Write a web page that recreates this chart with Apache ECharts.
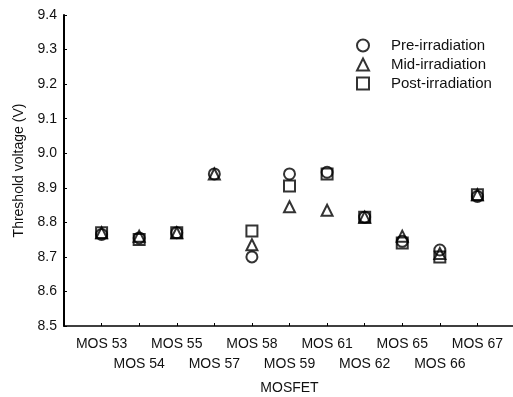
<!DOCTYPE html>
<html>
<head>
<meta charset="utf-8">
<script src="https://cdn.jsdelivr.net/npm/echarts@6/dist/echarts.min.js"></script>
<style>
html,body{margin:0;padding:0;background:#fff;}
#chart{width:513px;height:397px;}
</style>
</head>
<body>
<div id="chart"></div>
<script>
const categories = ['MOS 53','MOS 54','MOS 55','MOS 57','MOS 58','MOS 59','MOS 61','MOS 62','MOS 65','MOS 66','MOS 67'];
const preIrradiation  = [8.765, 8.755, 8.770, 8.940, 8.700, 8.940, 8.945, 8.815, 8.745, 8.720, 8.875];
const midIrradiation  = [8.770, 8.760, 8.770, 8.940, 8.735, 8.845, 8.835, 8.815, 8.760, 8.710, 8.880];
const postIrradiation = [8.770, 8.750, 8.770, null,  8.775, 8.905, 8.940, 8.815, 8.740, 8.700, 8.880];
const yTicks = [8.5, 8.6, 8.7, 8.8, 8.9, 9.0, 9.1, 9.2, 9.3, 9.4];

const axisCats = [''].concat(categories, ['']);
const pad = arr => [null].concat(arr, [null]);
const FONT = 'Liberation Sans, Arial, sans-serif';

const markerStyle = {color: 'rgba(255,255,255,0)', borderColor: '#000', borderWidth: 2};

const chart = echarts.init(document.getElementById('chart'), null, {renderer: 'canvas'});
chart.setOption({
  animation: false,
  backgroundColor: '#fff',
  textStyle: {fontFamily: FONT},
  grid: {left: 64, top: 15, width: 451, height: 311, containLabel: false, outerBoundsMode: 'none'},
  legend: {
    orient: 'vertical',
    left: 351,
    top: 33,
    itemWidth: 12,
    itemHeight: 12,
    itemGap: 4,
    textStyle: {fontFamily: FONT, fontSize: 15, lineHeight: 15, color: '#111', padding: [0, 0, 0, 17]},
    data: ['Pre-irradiation', 'Mid-irradiation', 'Post-irradiation']
  },
  xAxis: {
    type: 'category',
    data: axisCats,
    boundaryGap: false,
    name: 'MOSFET',
    nameLocation: 'middle',
    nameGap: 55,
    nameTextStyle: {fontFamily: FONT, fontSize: 14, color: '#111'},
    axisLine: {lineStyle: {color: '#000', width: 1.5}},
    axisTick: {show: true, inside: true, length: 3, interval: 0, lineStyle: {color: '#000'}},
    axisLabel: {
      interval: 0,
      margin: 8,
      fontFamily: FONT,
      fontSize: 14,
      color: '#111',
      lineHeight: 20,
      formatter: function (value, index) {
        if (!value) return '';
        return (index % 2 === 0) ? '\n' + value : value;
      }
    },
    splitLine: {show: false}
  },
  yAxis: {
    type: 'value',
    min: yTicks[0],
    max: yTicks[yTicks.length - 1],
    interval: 0.1,
    name: 'Threshold voltage (V)',
    nameLocation: 'middle',
    nameGap: 35,
    nameTextStyle: {fontFamily: FONT, fontSize: 14, color: '#111'},
    axisLine: {show: true, lineStyle: {color: '#000', width: 2}},
    axisTick: {show: true, inside: true, length: 3, lineStyle: {color: '#000'}},
    axisLabel: {
      fontFamily: FONT, fontSize: 14, color: '#111', margin: 7,
      formatter: v => v.toFixed(1)
    },
    splitLine: {show: false}
  },
  series: [
    {name: 'Pre-irradiation', type: 'scatter', symbol: 'circle', symbolSize: 11, data: pad(preIrradiation), itemStyle: markerStyle},
    {name: 'Mid-irradiation', type: 'scatter', symbol: 'triangle', symbolSize: 11, data: pad(midIrradiation), itemStyle: markerStyle},
    {name: 'Post-irradiation', type: 'scatter', symbol: 'rect', symbolSize: 11, data: pad(postIrradiation), itemStyle: markerStyle}
  ]
});
</script>
</body>
</html>
